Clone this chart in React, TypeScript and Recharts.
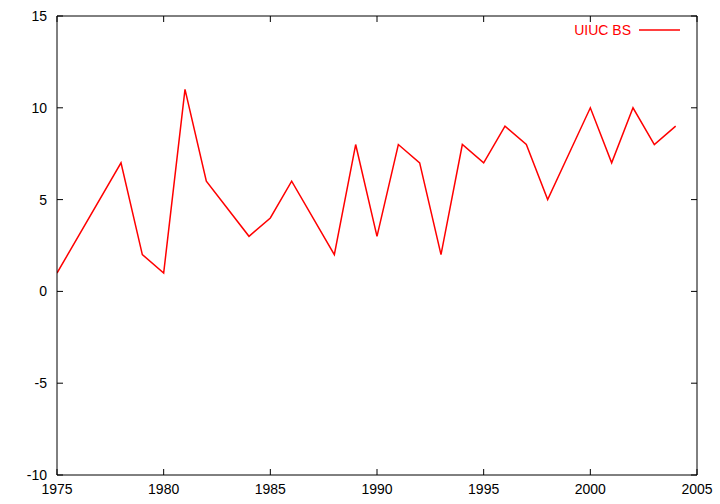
import React from "react";
import { LineChart, Line, XAxis, YAxis } from "recharts";

const years = [1975, 1978, 1979, 1980, 1981, 1982, 1984, 1985, 1986, 1988, 1989, 1990, 1991, 1992, 1993, 1994, 1995, 1996, 1997, 1998, 2000, 2001, 2002, 2003, 2004];
const uiucBS = [1, 7, 2, 1, 11, 6, 3, 4, 6, 2, 8, 3, 8, 7, 2, 8, 7, 9, 8, 5, 10, 7, 10, 8, 9];
const xTicks = [1975, 1980, 1985, 1990, 1995, 2000, 2005];
const yTicks = [-10, -5, 0, 5, 10, 15];
const seriesName = "UIUC BS";

const data = years.map((y, i) => ({ year: y, value: uiucBS[i] }));

const FONT = "'Liberation Sans', Arial, Helvetica, sans-serif";
const TICK = 6;

const BottomTick = (props: any) => {
  const { x, y, payload } = props;
  return (
    <g>
      <line x1={x} y1={y} x2={x} y2={y - TICK} stroke="#000" strokeWidth={1} />
      <text x={x} y={y + 19} textAnchor="middle" fontSize={14} fontFamily={FONT} fill="#000">
        {payload.value}
      </text>
    </g>
  );
};

const TopTick = (props: any) => {
  const { x, y } = props;
  return <line x1={x} y1={y} x2={x} y2={y + TICK} stroke="#000" strokeWidth={1} />;
};

const LeftTick = (props: any) => {
  const { x, y, payload } = props;
  return (
    <g>
      <line x1={x} y1={y} x2={x + TICK} y2={y} stroke="#000" strokeWidth={1} />
      <text x={x - 10} y={y + 5} textAnchor="end" fontSize={14} fontFamily={FONT} fill="#000">
        {payload.value}
      </text>
    </g>
  );
};

const RightTick = (props: any) => {
  const { x, y } = props;
  return <line x1={x} y1={y} x2={x - TICK} y2={y} stroke="#000" strokeWidth={1} />;
};

export default function App() {
  return (
    <div style={{ position: "absolute", left: 0, top: 0, width: 720, height: 504, background: "#fff" }}>
      <LineChart width={720} height={504} data={data} margin={{ top: 15, right: 22, bottom: 0, left: 0 }}>
        <XAxis
          xAxisId="bottom"
          dataKey="year"
          type="number"
          domain={[1975, 2005]}
          ticks={xTicks}
          allowDataOverflow
          height={29}
          tickSize={0}
          tickMargin={0}
          tickLine={false}
          axisLine={{ stroke: "#000", strokeWidth: 1 }}
          tick={<BottomTick />}
          interval={0}
        />
        <XAxis
          xAxisId="top"
          orientation="top"
          dataKey="year"
          type="number"
          domain={[1975, 2005]}
          ticks={xTicks}
          allowDataOverflow
          height={1}
          tickSize={0}
          tickMargin={0}
          tickLine={false}
          axisLine={{ stroke: "#000", strokeWidth: 1 }}
          tick={<TopTick />}
          interval={0}
        />
        <YAxis
          yAxisId="left"
          type="number"
          domain={[-10, 15]}
          ticks={yTicks}
          allowDataOverflow
          width={57}
          tickSize={0}
          tickMargin={0}
          tickLine={false}
          axisLine={{ stroke: "#000", strokeWidth: 1 }}
          tick={<LeftTick />}
          interval={0}
        />
        <YAxis
          yAxisId="right"
          orientation="right"
          type="number"
          domain={[-10, 15]}
          ticks={yTicks}
          allowDataOverflow
          width={1}
          tickSize={0}
          tickMargin={0}
          tickLine={false}
          axisLine={{ stroke: "#000", strokeWidth: 1 }}
          tick={<RightTick />}
          interval={0}
        />
        <Line
          xAxisId="bottom"
          yAxisId="left"
          type="linear"
          dataKey="value"
          name={seriesName}
          stroke="#ff0000"
          strokeWidth={1.5}
          dot={false}
          activeDot={false}
          isAnimationActive={false}
        />
      </LineChart>
      <svg width={720} height={504} style={{ position: "absolute", left: 0, top: 0, pointerEvents: "none" }}>
        <text x={631} y={35} textAnchor="end" fontSize={14} fontFamily={FONT} fill="#ff0000">
          {seriesName}
        </text>
        <line x1={639} y1={30} x2={680} y2={30} stroke="#ff0000" strokeWidth={1.5} />
      </svg>
    </div>
  );
}
